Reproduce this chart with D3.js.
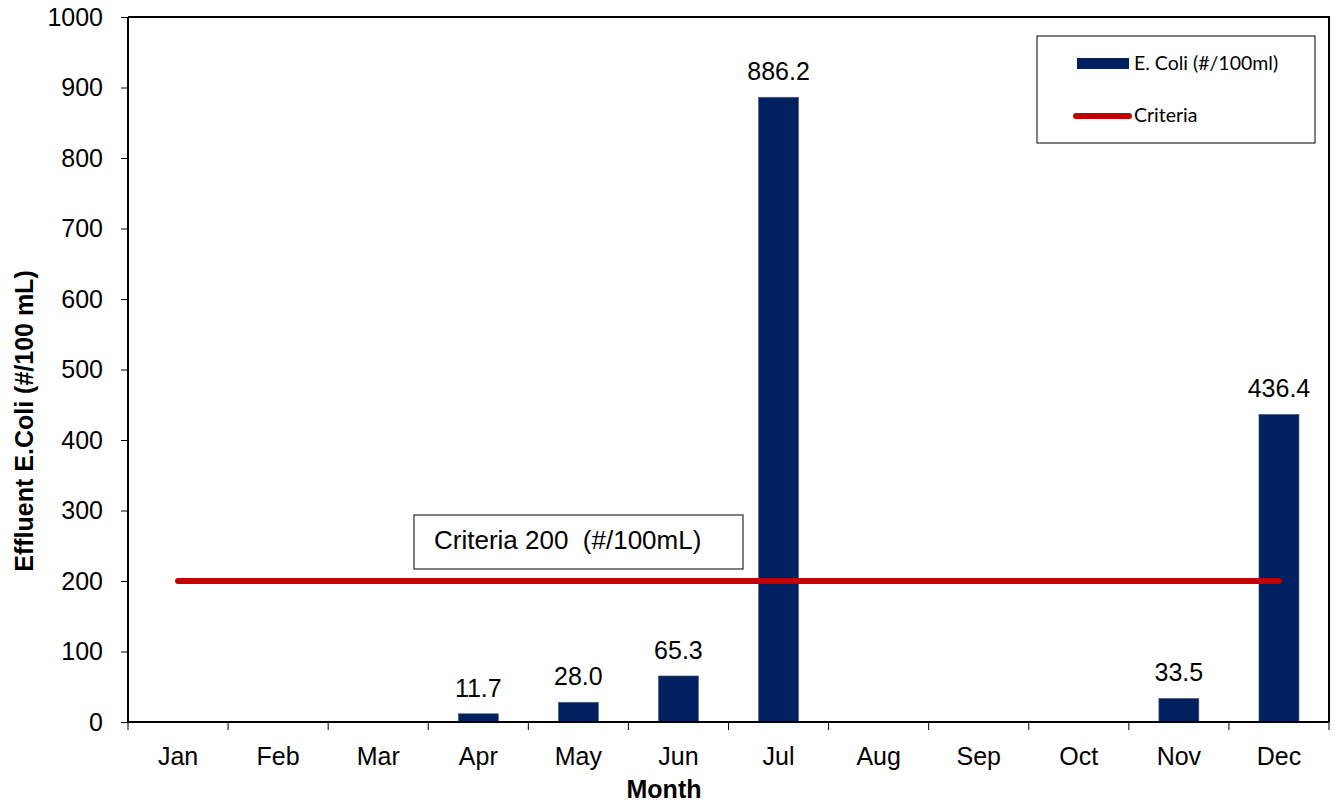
<!DOCTYPE html>
<html><head><meta charset="utf-8">
<script src="https://cdn.jsdelivr.net/npm/d3@7"></script>
<style>body{margin:0;background:#fff;} text{font-family:Arial,"Liberation Sans",sans-serif;}</style>
</head><body>
<svg id="c" width="1335" height="806"></svg>
<script>
const months = ["Jan","Feb","Mar","Apr","May","Jun","Jul","Aug","Sep","Oct","Nov","Dec"];
const ecoli = [null,null,null,11.7,28.0,65.3,886.2,null,null,null,33.5,436.4];
const criteria = 200;
const yTicks = [0,100,200,300,400,500,600,700,800,900,1000];

const svg = d3.select("#c");
const L=128, R=1329, T=17, B=722;
const FS = 25;
const x = d3.scaleBand().domain(months).range([L,R]).padding(0);
const y = d3.scaleLinear().domain([0,1000]).range([B,T]);
const barW = 40;

// plot border top/right
svg.append("path").attr("d",`M${L},${T}H${R}V${B}`).attr("fill","none").attr("stroke","#000").attr("stroke-width",2);

// bars
const data = months.map((m,i)=>({m,v:ecoli[i]})).filter(d=>d.v!=null);
svg.selectAll("rect.bar").data(data).enter().append("rect")
  .attr("x",d=>x(d.m)+x.bandwidth()/2-barW/2).attr("width",barW)
  .attr("y",d=>y(d.v)).attr("height",d=>B-y(d.v))
  .attr("fill","#002060").attr("stroke","#4a5f8a").attr("stroke-width",0.6);
svg.selectAll("text.lab").data(data).enter().append("text")
  .attr("x",d=>x(d.m)+x.bandwidth()/2).attr("y",d=>y(d.v)-17)
  .attr("text-anchor","middle").attr("font-size",FS).attr("fill","#000")
  .text(d=>d.v.toFixed(1));

// criteria line
svg.append("line").attr("x1",x("Jan")+x.bandwidth()/2).attr("x2",x("Dec")+x.bandwidth()/2)
  .attr("y1",y(criteria)).attr("y2",y(criteria))
  .attr("stroke","#c00000").attr("stroke-width",6).attr("stroke-linecap","round");

// axes
const ya = svg.append("g").attr("transform",`translate(${L},0)`)
  .call(d3.axisLeft(y).tickValues(yTicks).tickSize(7).tickPadding(18).tickFormat(d3.format("d")));
ya.select(".domain").attr("stroke-width",2).attr("d",`M0,${T}V${B}`);
ya.selectAll("text").attr("font-size",FS).attr("font-family","Arial").attr("fill","#000");

const xa = svg.append("g").attr("transform",`translate(0,${B})`)
  .call(d3.axisBottom(x).tickSize(0).tickPadding(25));
xa.select(".domain").attr("stroke-width",2).attr("d",`M${L},0H${R}`);
xa.selectAll("text").attr("font-size",FS).attr("font-family","Arial").attr("fill","#000");
// boundary ticks
const bounds = months.map(m=>x(m)).concat([R]);
svg.selectAll("line.xt").data(bounds).enter().append("line")
  .attr("x1",d=>d).attr("x2",d=>d).attr("y1",B).attr("y2",B+8).attr("stroke","#000").attr("stroke-width",1);

// axis titles
svg.append("text").attr("x",664).attr("y",798).attr("text-anchor","middle")
  .attr("font-size",FS).attr("font-weight","bold").text("Month");
svg.append("text").attr("transform","translate(33,421) rotate(-90)").attr("text-anchor","middle")
  .attr("font-size",FS).attr("font-weight","bold").text("Effluent E.Coli (#/100 mL)");

// annotation box
svg.append("rect").attr("x",414).attr("y",515).attr("width",329).attr("height",54)
  .attr("fill","#fff").attr("stroke","#000").attr("stroke-width",1);
svg.append("text").attr("x",434).attr("y",549).attr("font-size",26).attr("xml:space","preserve")
  .text("Criteria 200  (#/100mL)");

// legend
const lg = svg.append("g");
lg.append("rect").attr("x",1037).attr("y",36).attr("width",278).attr("height",107)
  .attr("fill","#fff").attr("stroke","#000").attr("stroke-width",1);
lg.append("rect").attr("x",1077).attr("y",58).attr("width",52).attr("height",11).attr("fill","#002060");
lg.append("text").attr("x",1134).attr("y",70).attr("font-size",19.5)
  .style("font-family","Lato, 'Open Sans', sans-serif").text("E. Coli (#/100ml)");
lg.append("line").attr("x1",1076).attr("x2",1129).attr("y1",116).attr("y2",116)
  .attr("stroke","#c00000").attr("stroke-width",6).attr("stroke-linecap","round");
lg.append("text").attr("x",1134).attr("y",122).attr("font-size",19.5)
  .style("font-family","Lato, 'Open Sans', sans-serif").text("Criteria");
</script>
</body></html>
